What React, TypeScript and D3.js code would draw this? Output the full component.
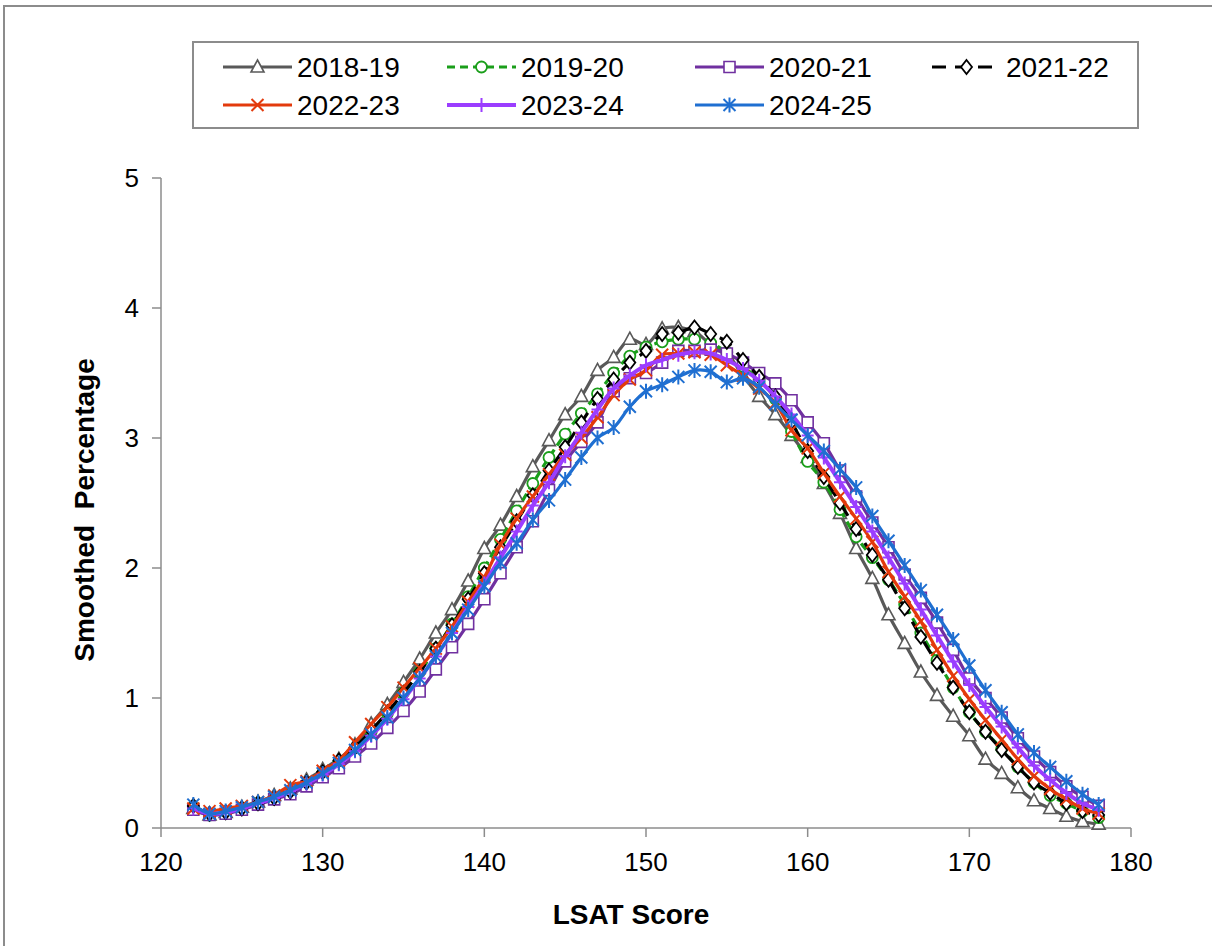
import React from "react";
import * as d3 from "d3";

const scores: number[] = d3.range(122, 179);

const s2018: number[] = [0.15,0.10,0.12,0.16,0.20,0.25,0.30,0.37,0.45,0.53,0.64,0.80,0.95,1.12,1.30,1.50,1.68,1.90,2.15,2.33,2.55,2.78,2.98,3.18,3.32,3.52,3.62,3.76,3.72,3.84,3.85,3.82,3.72,3.65,3.48,3.32,3.18,3.02,2.85,2.65,2.42,2.15,1.92,1.64,1.42,1.20,1.02,0.86,0.71,0.53,0.42,0.31,0.21,0.15,0.09,0.05,0.03];
const s2019: number[] = [0.16,0.10,0.12,0.15,0.19,0.23,0.28,0.34,0.42,0.50,0.60,0.74,0.88,1.04,1.20,1.38,1.57,1.78,2.00,2.22,2.44,2.65,2.85,3.03,3.19,3.34,3.50,3.63,3.70,3.74,3.76,3.76,3.73,3.66,3.55,3.45,3.30,3.05,2.82,2.66,2.45,2.24,2.08,1.91,1.72,1.50,1.29,1.08,0.89,0.74,0.61,0.47,0.35,0.25,0.19,0.13,0.08];
const s2020: number[] = [0.14,0.10,0.11,0.14,0.18,0.22,0.26,0.32,0.39,0.46,0.55,0.65,0.77,0.90,1.05,1.22,1.39,1.57,1.76,1.96,2.16,2.36,2.60,2.82,2.97,3.12,3.36,3.46,3.50,3.58,3.67,3.67,3.68,3.65,3.58,3.50,3.42,3.29,3.12,2.96,2.75,2.55,2.35,2.16,1.95,1.77,1.58,1.37,1.15,1.00,0.85,0.69,0.55,0.43,0.32,0.24,0.17];
const s2021: number[] = [0.17,0.11,0.12,0.15,0.19,0.23,0.28,0.35,0.43,0.52,0.62,0.75,0.89,1.04,1.20,1.38,1.56,1.76,1.96,2.16,2.36,2.56,2.75,2.93,3.12,3.30,3.45,3.58,3.67,3.80,3.81,3.85,3.80,3.74,3.60,3.47,3.32,3.12,2.90,2.70,2.50,2.30,2.10,1.91,1.69,1.47,1.27,1.08,0.89,0.74,0.60,0.47,0.35,0.27,0.19,0.13,0.10];
const s2022: number[] = [0.15,0.13,0.15,0.17,0.20,0.25,0.33,0.36,0.44,0.52,0.66,0.80,0.93,1.08,1.23,1.38,1.55,1.74,1.93,2.18,2.38,2.55,2.72,2.87,3.00,3.16,3.33,3.45,3.52,3.64,3.65,3.66,3.64,3.56,3.48,3.38,3.27,3.06,2.92,2.73,2.55,2.38,2.20,1.97,1.78,1.59,1.37,1.17,0.99,0.83,0.68,0.53,0.40,0.30,0.22,0.15,0.11];
const s2023: number[] = [0.15,0.11,0.12,0.15,0.19,0.23,0.28,0.34,0.41,0.49,0.59,0.71,0.84,0.99,1.15,1.32,1.50,1.70,1.88,2.08,2.28,2.48,2.66,2.86,3.04,3.22,3.38,3.48,3.56,3.60,3.64,3.66,3.65,3.60,3.53,3.44,3.32,3.18,3.02,2.85,2.66,2.47,2.28,2.08,1.88,1.68,1.48,1.28,1.10,0.93,0.78,0.62,0.48,0.37,0.27,0.19,0.14];
const s2024: number[] = [0.18,0.11,0.13,0.16,0.20,0.24,0.29,0.35,0.42,0.50,0.60,0.72,0.85,1.00,1.15,1.32,1.50,1.68,1.86,2.04,2.19,2.37,2.52,2.68,2.85,3.00,3.08,3.24,3.36,3.41,3.47,3.52,3.51,3.43,3.46,3.39,3.26,3.14,3.02,2.90,2.76,2.62,2.40,2.21,2.02,1.83,1.64,1.45,1.25,1.06,0.89,0.72,0.58,0.47,0.36,0.26,0.18];

const seriesNames: string[] = ["2018-19","2019-20","2020-21","2021-22","2022-23","2023-24","2024-25"];
const seriesValues: number[][] = [s2018, s2019, s2020, s2021, s2022, s2023, s2024];

const xTicks: number[] = [120,130,140,150,160,170,180];
const yTicks: number[] = [0,1,2,3,4,5];

type Style = { color: string; dash: string; marker: string; width: number; mw: number };
const styles: Style[] = [
  { color: "#595959", dash: "", marker: "tri", width: 3.2, mw: 1.6 },
  { color: "#1a9e1a", dash: "8 5", marker: "circle", width: 3.2, mw: 1.8 },
  { color: "#7030a0", dash: "", marker: "square", width: 3.2, mw: 1.6 },
  { color: "#000000", dash: "14 9", marker: "diamond", width: 3.2, mw: 1.8 },
  { color: "#e33a0c", dash: "", marker: "x", width: 3.2, mw: 2 },
  { color: "#9b3dff", dash: "", marker: "plus", width: 4, mw: 2 },
  { color: "#1f6fd1", dash: "", marker: "star", width: 3.2, mw: 2 },
];

function Marker({ kind, x, y, color, w }: { kind: string; x: number; y: number; color: string; w: number }) {
  const t = `translate(${x},${y})`;
  switch (kind) {
    case "tri":
      return <path transform={t} d="M0,-7L6.5,5L-6.5,5Z" fill="white" stroke={color} strokeWidth={w} />;
    case "circle":
      return <circle cx={x} cy={y} r={5.5} fill="white" stroke={color} strokeWidth={w} />;
    case "square":
      return <path transform={t} d="M-5.5,-5.5H5.5V5.5H-5.5Z" fill="white" stroke={color} strokeWidth={w} />;
    case "diamond":
      return <path transform={t} d="M0,-7L5.5,0L0,7L-5.5,0Z" fill="white" stroke={color} strokeWidth={w} />;
    case "x":
      return <path transform={t} d="M-6,-6L6,6M-6,6L6,-6" fill="none" stroke={color} strokeWidth={w} />;
    case "plus":
      return <path transform={t} d="M-6,0L6,0M0,-7L0,7" fill="none" stroke={color} strokeWidth={w} />;
    case "star":
      return <path transform={t} d="M-6,-6L6,6M-6,6L6,-6M0,-7.5L0,7.5" fill="none" stroke={color} strokeWidth={w} />;
  }
  return null;
}

const legendPos: { x: number; y: number }[] = [
  { x: 223, y: 67 }, { x: 447, y: 67 }, { x: 695, y: 67 }, { x: 932, y: 67 },
  { x: 223, y: 105 }, { x: 447, y: 105 }, { x: 695, y: 105 },
];

export default function App() {
  const x = d3.scaleLinear().domain([120, 180]).range([161, 1131]);
  const y = d3.scaleLinear().domain([0, 5]).range([828, 178]);
  const line = d3
    .line<number>()
    .x((_, i) => x(scores[i]))
    .y((d) => y(d))
    .curve(d3.curveCatmullRom.alpha(0.5));
  const axisColor = "#8c8c8c";
  const font = "'Liberation Sans', Arial, sans-serif";

  return (
    <svg width={1212} height={946} style={{ position: "absolute", left: 0, top: 0, background: "white" }} fontFamily={font}>
      <rect x={4} y={6} width={1220} height={960} fill="white" stroke={axisColor} strokeWidth={2} />
      {/* axes */}
      <line x1={161} x2={161} y1={y(5)} y2={y(0)} stroke={axisColor} strokeWidth={1.5} />
      <line x1={161} x2={1131} y1={y(0)} y2={y(0)} stroke={axisColor} strokeWidth={1.5} />
      {yTicks.map((t) => (
        <g key={"y" + t}>
          <line x1={152} x2={161} y1={y(t)} y2={y(t)} stroke={axisColor} strokeWidth={1.5} />
          <text x={139} y={y(t)} dy="0.35em" textAnchor="end" fontSize={26} fill="#000">{t}</text>
        </g>
      ))}
      {xTicks.map((t) => (
        <g key={"x" + t}>
          <line x1={x(t)} x2={x(t)} y1={y(0)} y2={y(0) + 9} stroke={axisColor} strokeWidth={1.5} />
          <text x={x(t)} y={871} textAnchor="middle" fontSize={26} fill="#000">{t}</text>
        </g>
      ))}
      <text x={631} y={924} textAnchor="middle" fontSize={28} fontWeight="bold">LSAT Score</text>
      <text transform="translate(94,510) rotate(-90)" textAnchor="middle" fontSize={28} fontWeight="bold" style={{ whiteSpace: "pre" }}>{"Smoothed  Percentage"}</text>

      {/* series */}
      {seriesValues.map((vals, si) => {
        const st = styles[si];
        return (
          <g key={seriesNames[si]}>
            <path d={line(vals) || ""} fill="none" stroke={st.color} strokeWidth={st.width} strokeDasharray={st.dash || undefined} strokeLinejoin="round" />
            {vals.map((v, i) => (
              <Marker key={i} kind={st.marker} x={x(scores[i])} y={y(v)} color={st.color} w={st.mw} />
            ))}
          </g>
        );
      })}

      {/* legend */}
      <rect x={193} y={42} width={945} height={86} fill="white" stroke={axisColor} strokeWidth={2} />
      {seriesNames.map((name, si) => {
        const st = styles[si];
        const p = legendPos[si];
        return (
          <g key={"l" + name}>
            <line x1={p.x} x2={p.x + 69} y1={p.y} y2={p.y} stroke={st.color} strokeWidth={st.width} strokeDasharray={st.dash || undefined} />
            <Marker kind={st.marker} x={p.x + 34.5} y={p.y} color={st.color} w={st.mw} />
            <text x={p.x + 74} y={p.y} dy="0.35em" fontSize={28} fill="#000">{name}</text>
          </g>
        );
      })}
    </svg>
  );
}
